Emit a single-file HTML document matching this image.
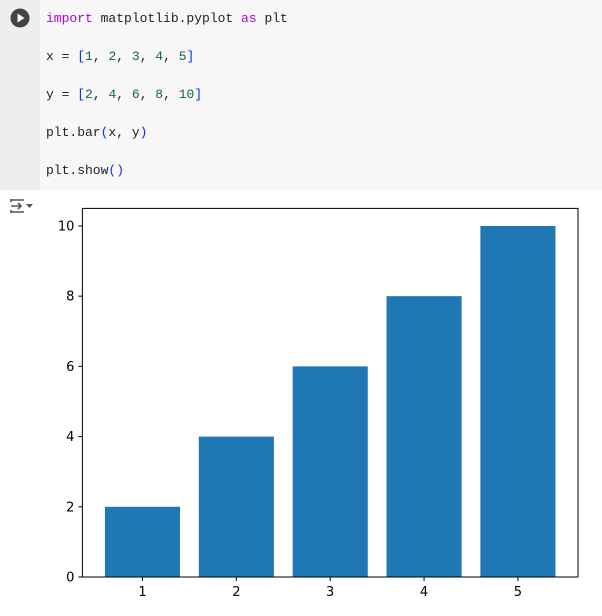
<!DOCTYPE html>
<html><head><meta charset="utf-8"><style>
body{margin:0;width:602px;height:616px;background:#fff;overflow:hidden;position:relative;font-family:"Liberation Sans",sans-serif}
#cell{position:absolute;left:0;top:0;width:602px;height:190px;background:#f7f7f7}
#gutter{position:absolute;left:0;top:0;width:40px;height:190px;background:#eeeeee}
.code{position:absolute;left:46px;font-family:"Liberation Mono",monospace;font-size:13px;color:#222;white-space:pre}
.k{color:#af00db}.n{color:#116644}.b{color:#0431fa}
</style></head><body>
<div id="cell">
<div id="gutter"></div>
<svg style="position:absolute;left:10px;top:8px" width="20" height="20"><circle cx="10" cy="10" r="9.5" fill="#444"/><path d="M7.5 5.5 L14.5 10 L7.5 14.5Z" fill="#fff"/></svg>
<div class="code" style="top:11px"><span class="k">import</span> matplotlib.pyplot <span class="k">as</span> plt</div>
<div class="code" style="top:49px">x = <span class="b">[</span><span class="n">1</span>, <span class="n">2</span>, <span class="n">3</span>, <span class="n">4</span>, <span class="n">5</span><span class="b">]</span></div>
<div class="code" style="top:87px">y = <span class="b">[</span><span class="n">2</span>, <span class="n">4</span>, <span class="n">6</span>, <span class="n">8</span>, <span class="n">10</span><span class="b">]</span></div>
<div class="code" style="top:125px">plt.bar<span class="b">(</span>x, y<span class="b">)</span></div>
<div class="code" style="top:163px">plt.show<span class="b">()</span></div>
</div>
<svg style="position:absolute;left:9px;top:197px" width="26" height="18"><g stroke="#555" stroke-width="1.6" fill="none"><path d="M2 3h13M2 15h13M2 9h10M9 6l3 3-3 3M2 2v3M2 13v3"/></g><path d="M17 7h7l-3.5 4z" fill="#555"/></svg>
<svg id="chart" style="position:absolute;left:0;top:0" width="602" height="616"></svg>
<script>
const categories=[1,2,3,4,5];
const values=[2,4,6,8,10];
const yTicks=[0,2,4,6,8,10];
const NS="http://www.w3.org/2000/svg";
const svg=document.getElementById('chart');
const L=82.4,R=578,T=208.4,B=577;
const xmin=0.36,xmax=5.64,ymin=0,ymax=10.5;
const xs=v=>L+(v-xmin)/(xmax-xmin)*(R-L);
const ys=v=>B-(v-ymin)/(ymax-ymin)*(B-T);
function mk(t,a){const e=document.createElementNS(NS,t);for(const k in a)e.setAttribute(k,a[k]);svg.appendChild(e);return e;}
const FONT='"DejaVu Sans", sans-serif';
categories.forEach((c,i)=>{
 const r=mk('rect',{x:xs(c-0.4),y:ys(values[i]),width:xs(c+0.4)-xs(c-0.4),height:ys(0)-ys(values[i]),fill:'#1f77b4'});
 
 
 const t=mk('line',{x1:xs(c),x2:xs(c),y1:B,y2:B+4,stroke:'#000','stroke-width':1});
 
 
 const l=mk('text',{x:xs(c),y:B+19,'text-anchor':'middle','font-size':13,'font-family':FONT,fill:'#000'});
 l.textContent=c;
 
 
});
yTicks.forEach(v=>{
 const t=mk('line',{x1:L-4,x2:L,y1:ys(v),y2:ys(v),stroke:'#000','stroke-width':1});
 
 
 const l=mk('text',{x:L-8,y:ys(v)+4.5,'text-anchor':'end','font-size':13,'font-family':FONT,fill:'#000'});
 l.textContent=v;
 
 
});
const f=mk('rect',{x:L,y:T,width:R-L,height:B-T,fill:'none',stroke:'#000','stroke-width':1});


</script>
</body></html>
